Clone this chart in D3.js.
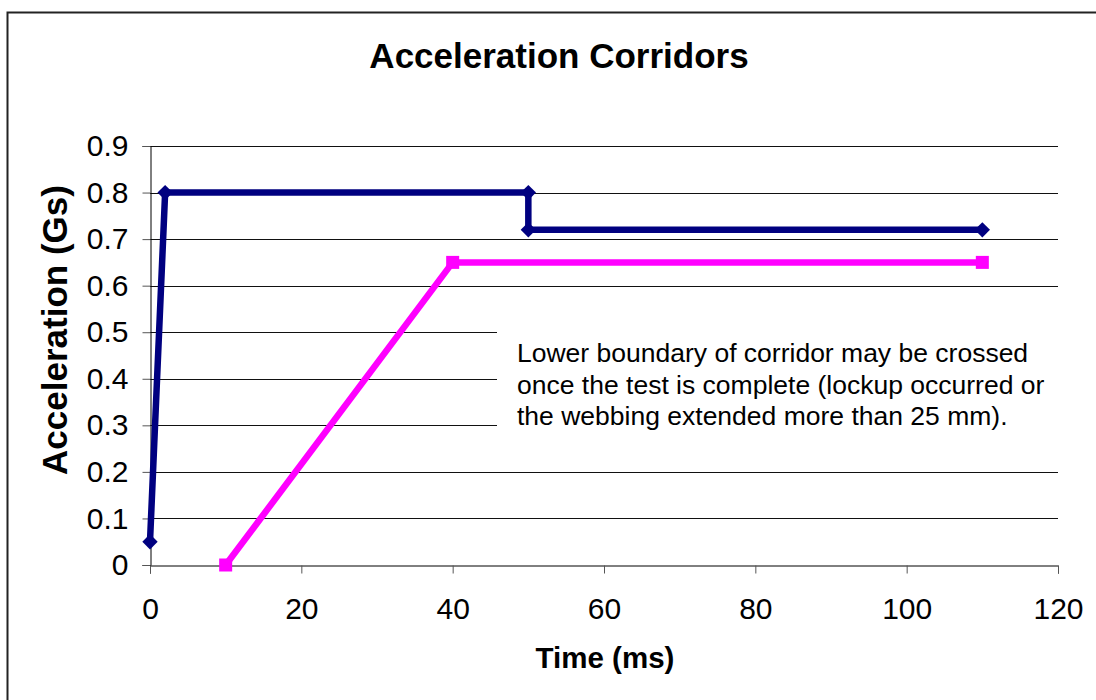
<!DOCTYPE html>
<html>
<head>
<meta charset="utf-8">
<script src="https://cdn.jsdelivr.net/npm/d3@7"></script>
<style>
  body { margin: 0; background: #fff; }
  svg { display: block; font-family: "Liberation Sans", Arial, sans-serif; }
</style>
</head>
<body>
<div id="chart"></div>
<script>
// upper corridor (navy)
var upperTime = [0, 2, 50, 50, 110];
var upperAccel = [0.05, 0.8, 0.8, 0.72, 0.72];
// lower corridor (magenta)
var lowerTime = [10, 40, 110];
var lowerAccel = [0, 0.65, 0.65];

var xTicks = [0, 20, 40, 60, 80, 100, 120];
var yTicks = [0, 0.1, 0.2, 0.3, 0.4, 0.5, 0.6, 0.7, 0.8, 0.9];
var noteLines = [
  "Lower boundary of corridor may be crossed",
  "once the test is complete (lockup occurred or",
  "the webbing extended more than 25 mm)."
];

var W = 1096, H = 700;
var svg = d3.select("#chart").append("svg").attr("width", W).attr("height", H);

// outer chart border
svg.append("rect")
  .attr("x", 7.5).attr("y", 12.5).attr("width", W + 10).attr("height", H + 10)
  .attr("fill", "#fff").attr("stroke", "#222").attr("stroke-width", 2);

var x = d3.scaleLinear().domain([0, 120]).range([150, 1058]);
var y = d3.scaleLinear().domain([0, 0.9]).range([565, 146]);

// gridlines
svg.append("g").selectAll("line").data(yTicks.slice(1)).join("line")
  .attr("x1", x(0)).attr("x2", x(120))
  .attr("y1", function(d){ return Math.round(y(d)) + 0.5; })
  .attr("y2", function(d){ return Math.round(y(d)) + 0.5; })
  .attr("stroke", "#111").attr("stroke-width", 1);

// y axis
var yAxis = svg.append("g").attr("transform", "translate(150.5,0)")
  .call(d3.axisLeft(y).tickValues(yTicks).tickSizeOuter(0).tickSize(8).tickPadding(14)
    .tickFormat(function(d){ return d === 0 ? "0" : d3.format(".1f")(d); }));
// x axis
var xAxis = svg.append("g").attr("transform", "translate(0,565.5)")
  .call(d3.axisBottom(x).tickValues(xTicks).tickSizeOuter(0).tickSize(8).tickPadding(24));

[yAxis, xAxis].forEach(function(a){
  a.select(".domain").attr("stroke", "#000");
  a.selectAll(".tick line").attr("stroke", "#555");
  a.selectAll(".tick text").attr("font-size", 30).attr("fill", "#000")
    .attr("font-family", "Liberation Sans, Arial, sans-serif");
});

// annotation box (white fill hides gridlines)
var note = svg.append("g");
note.append("rect").attr("x", 497).attr("y", 318).attr("width", 563).attr("height", 120)
  .attr("fill", "#fff");
note.append("text").attr("x", 517).attr("y", 362).attr("font-size", 26.5).attr("fill", "#000")
  .selectAll("tspan").data(noteLines).join("tspan")
  .attr("x", 517).attr("dy", function(d, i){ return i === 0 ? 0 : 31.5; })
  .text(function(d){ return d; });

var line = d3.line().x(function(d){ return x(d[0]); }).y(function(d){ return y(d[1]); });
var upper = upperTime.map(function(t, i){ return [t, upperAccel[i]]; });
var lower = lowerTime.map(function(t, i){ return [t, lowerAccel[i]]; });

svg.append("path").datum(lower).attr("d", line)
  .attr("fill", "none").attr("stroke", "#FF00FF").attr("stroke-width", 6.5).attr("stroke-linejoin", "miter");
svg.append("g").selectAll("rect").data(lower).join("rect")
  .attr("x", function(d){ return x(d[0]) - 6.5; }).attr("y", function(d){ return y(d[1]) - 6.5; })
  .attr("width", 13).attr("height", 13).attr("fill", "#FF00FF");

svg.append("path").datum(upper).attr("d", line)
  .attr("fill", "none").attr("stroke", "#000080").attr("stroke-width", 6.5).attr("stroke-linejoin", "miter");
svg.append("g").selectAll("path").data(upper).join("path")
  .attr("d", d3.symbol().type(d3.symbolDiamond2).size(150))
  .attr("transform", function(d){ return "translate(" + x(d[0]) + "," + y(d[1]) + ")"; })
  .attr("fill", "#000080");

// titles
svg.append("text").attr("x", 559).attr("y", 68).attr("text-anchor", "middle")
  .attr("font-size", 35).attr("font-weight", "bold").text("Acceleration Corridors");
svg.append("text").attr("x", 605).attr("y", 668).attr("text-anchor", "middle")
  .attr("font-size", 29.5).attr("font-weight", "bold").text("Time (ms)");
svg.append("text").attr("transform", "translate(67,330) rotate(-90)").attr("text-anchor", "middle")
  .attr("font-size", 35).attr("font-weight", "bold").text("Acceleration (Gs)");
</script>
</body>
</html>
